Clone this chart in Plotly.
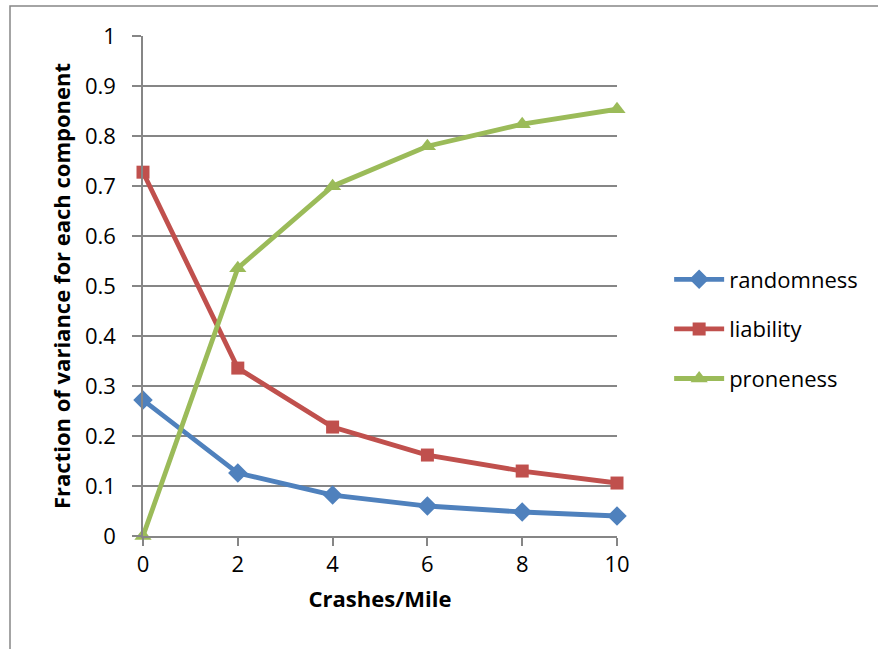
import plotly.graph_objects as go

crashes_per_mile = [0, 2, 4, 6, 8, 10]
randomness = [0.272, 0.126, 0.082, 0.060, 0.048, 0.040]
liability = [0.728, 0.336, 0.218, 0.162, 0.130, 0.106]
proneness = [0.000, 0.536, 0.700, 0.780, 0.824, 0.854]

series = [
    ("randomness", randomness, "#4F81BD", "diamond", 15),
    ("liability", liability, "#C0504D", "square", 13),
    ("proneness", proneness, "#9BBB59", "triangle-up", 15),
]

W, H = 878, 649
L, R, T, B = 143, 261, 36, 113

fig = go.Figure()
for name, vals, color, sym, sz in series:
    fig.add_trace(go.Scatter(
        x=crashes_per_mile, y=vals, name=name, mode="lines+markers",
        line=dict(color=color, width=4.8),
        marker=dict(symbol=sym, size=sz, color=color),
        cliponaxis=False, legendgroup=name,
    ))

font_family = "Open Sans, Lato, Liberation Sans, sans-serif"
fig.update_layout(
    width=W, height=H,
    margin=dict(l=L, r=R, t=T, b=B),
    paper_bgcolor="white", plot_bgcolor="white",
    font=dict(family=font_family, size=22, color="black"),
    showlegend=True,
    legend=dict(
        x=1.11, xanchor="left", y=0.414, yanchor="middle",
        xref="paper", font=dict(family=font_family, size=22, color="black"),
        tracegroupgap=18,
        bgcolor="rgba(0,0,0,0)", itemwidth=50,
    ),
    xaxis=dict(
        range=[0, 10], tickvals=crashes_per_mile,
        tickfont=dict(family=font_family, size=22, color="black"),
        showgrid=False, zeroline=False,
        showline=True, linecolor="#868686", linewidth=1.5,
        ticks="outside", ticklen=8, tickcolor="#868686", tickwidth=1.5,
        title=dict(text="<b>Crashes/Mile</b>", font=dict(family=font_family, size=22, color="black"), standoff=14),
    ),
    yaxis=dict(
        range=[0, 1.0005], tickvals=[0, 0.1, 0.2, 0.3, 0.4, 0.5, 0.6, 0.7, 0.8, 0.9, 1],
        ticktext=["0", "0.1", "0.2", "0.3", "0.4", "0.5", "0.6", "0.7", "0.8", "0.9", "1"],
        tickfont=dict(family=font_family, size=22, color="black"),
        ticklabelstandoff=12,
        showgrid=True, gridcolor="#868686", gridwidth=1.5,
        zeroline=False,
        showline=True, linecolor="#868686", linewidth=1.5,
        ticks="outside", ticklen=9, tickcolor="#868686", tickwidth=1.5,
        title=dict(text="<b>Fraction of variance for each component</b>", font=dict(family=font_family, size=22, color="black"), standoff=8),
    ),
    shapes=[dict(
        type="rect", xref="paper", yref="paper",
        x0=(10 - L) / (W - L - R), x1=(W + 20 - L) / (W - L - R),
        y0=(B - H - 20) / (H - T - B), y1=(H - 6 - B) / (H - T - B),
        line=dict(color="#868686", width=1.5), layer="below",
    )],
)

fig.write_html("out.html")
